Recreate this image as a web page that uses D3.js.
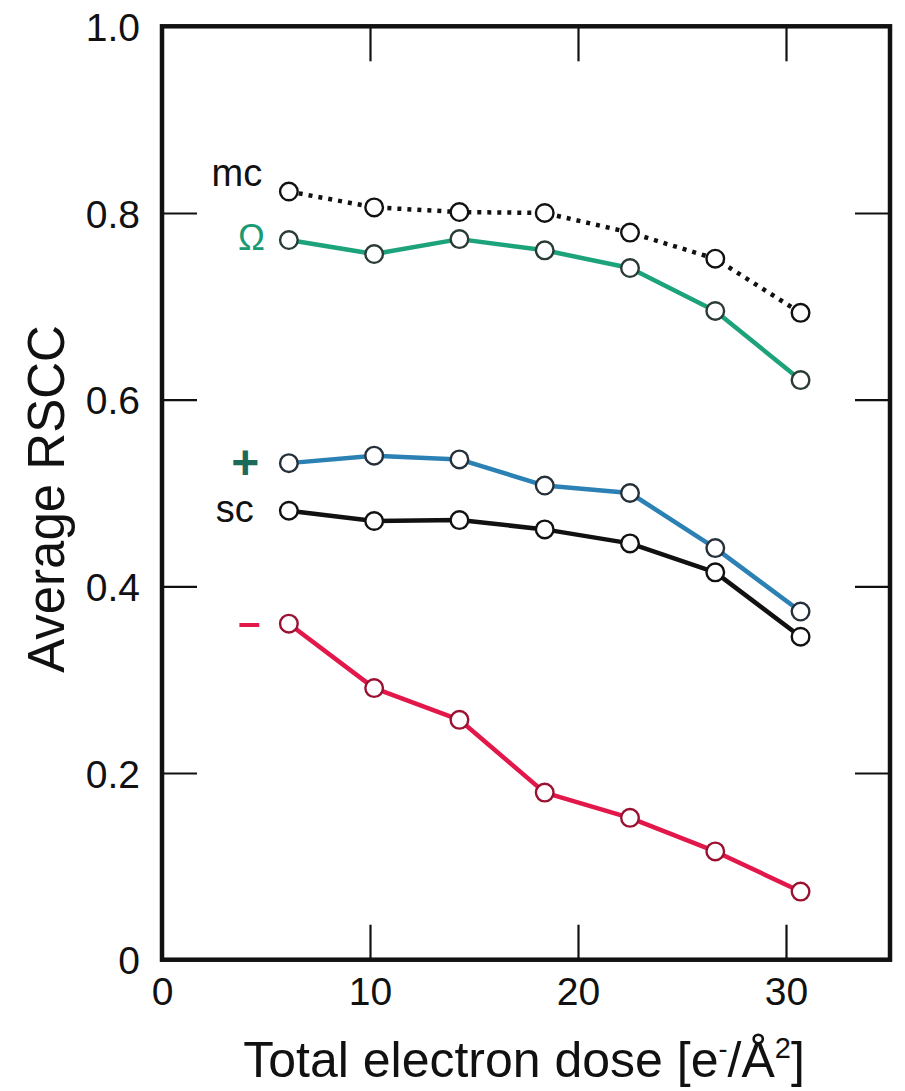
<!DOCTYPE html>
<html><head><meta charset="utf-8">
<script src="https://cdn.jsdelivr.net/npm/d3@7"></script>
<style>body{margin:0;background:#fff}svg{display:block}text{font-family:"Liberation Sans",Arial,Helvetica,sans-serif}</style>
</head><body><svg id="c" width="905" height="1091"></svg>
<script>
const dose = [6.1, 10.2, 14.3, 18.4, 22.5, 26.6, 30.7];
const mcValues    = [0.823, 0.806, 0.801, 0.800, 0.779, 0.751, 0.693];
const omegaValues = [0.771, 0.756, 0.772, 0.760, 0.741, 0.695, 0.621];
const plusValues  = [0.532, 0.540, 0.536, 0.508, 0.500, 0.441, 0.373];
const scValues    = [0.481, 0.470, 0.471, 0.461, 0.446, 0.415, 0.346];
const minusValues = [0.360, 0.291, 0.257, 0.179, 0.152, 0.116, 0.073];
const xTicks = [0, 10, 20, 30];
const yTicks = [0, 0.2, 0.4, 0.6, 0.8, 1.0];
const yTickLabels = ["0", "0.2", "0.4", "0.6", "0.8", "1.0"];

const series = [
  {name:"mc", values: mcValues, color:"#111", dash:"4,6", marker:"#111", label:"mc", labelColor:"#111", ly:0.843, lx:3.6, size:38},
  {name:"omega", values: omegaValues, color:"#1ca37b", dash:null, marker:"#2a3a35", label:"Ω", labelColor:"#1a9a74", ly:0.774, lx:4.3, size:36},
  {name:"plus", values: plusValues, color:"#2b80b4", dash:null, marker:"#26303a", label:"+", labelColor:"#1c6b5a", ly:0.533, lx:4.0, size:48, bold:true},
  {name:"sc", values: scValues, color:"#111", dash:null, marker:"#111", label:"sc", labelColor:"#111", ly:0.483, lx:3.5, size:38},
  {name:"minus", values: minusValues, color:"#e3184a", dash:null, marker:"#9a1232", label:"–", labelColor:"#e3184a", ly:0.362, lx:4.2, size:40, bold:true}
];

const L=162, R=890, T=26.3, B=959.7;
const x = d3.scaleLinear().domain([0,35]).range([L,R]);
const y = d3.scaleLinear().domain([0,1]).range([B,T]);
const svg = d3.select("#c");
const tl = 35;

const fmtY = d => yTickLabels[yTicks.indexOf(d)];
const gB = svg.append("g").attr("transform",`translate(0,${B})`)
  .call(d3.axisBottom(x).tickValues(xTicks).tickSizeInner(-tl).tickSizeOuter(0).tickPadding(18).tickFormat(d3.format("d")));
const gT = svg.append("g").attr("transform",`translate(0,${T})`)
  .call(d3.axisTop(x).tickValues(xTicks.slice(1)).tickSizeInner(-tl).tickSizeOuter(0).tickFormat(""));
const gL = svg.append("g").attr("transform",`translate(${L},0)`)
  .call(d3.axisLeft(y).tickValues(yTicks).tickSizeInner(-tl).tickSizeOuter(0).tickPadding(22).tickFormat(fmtY));
const gR = svg.append("g").attr("transform",`translate(${R},0)`)
  .call(d3.axisRight(y).tickValues(yTicks.slice(1,5)).tickSizeInner(-tl).tickSizeOuter(0).tickFormat(""));
[gB,gT,gL,gR].forEach(g=>{
  g.select(".domain").remove();
  g.selectAll(".tick line").attr("stroke","#111").attr("stroke-width",2.2);
  g.selectAll(".tick text").attr("fill","#111").style("font-size","39px").style("font-family",'"Liberation Sans",Arial,sans-serif');
});
gL.selectAll(".tick text").attr("dy","0.36em");

svg.append("rect").attr("x",L).attr("y",T).attr("width",R-L).attr("height",B-T)
  .attr("fill","none").attr("stroke","#111").attr("stroke-width",4.5);

const line = d3.line().x((d,i)=>x(dose[i])).y(d=>y(d));
series.forEach(s=>{
  svg.append("path").datum(s.values).attr("d",line).attr("fill","none")
    .attr("stroke",s.color).attr("stroke-width",4.5)
    .attr("stroke-dasharray",s.dash).attr("stroke-linejoin","round");
});
series.forEach(s=>{
  svg.append("g").selectAll("circle").data(s.values).join("circle")
    .attr("cx",(d,i)=>x(dose[i])).attr("cy",d=>y(d)).attr("r",8.8)
    .attr("fill","#fff").attr("stroke",s.marker).attr("stroke-width",2.4);
  svg.append("text").attr("x",x(s.lx)).attr("y",y(s.ly)).attr("dy","0.35em")
    .attr("text-anchor","middle").attr("fill",s.labelColor)
    .style("font-size", s.size + "px").style("font-weight", s.bold ? "bold" : "normal")
    .text(s.label);
});

svg.append("text").attr("x",(L+R)/2 - 2).attr("y",1077).attr("text-anchor","middle")
  .attr("fill","#111").style("font-size","50px")
  .html('Total electron dose [e<tspan dy="-19" style="font-size:27px">-</tspan><tspan dy="19">/Å</tspan><tspan dy="-19" style="font-size:29px">2</tspan><tspan dy="19">]</tspan>');
svg.append("text").attr("transform",`translate(64,${(T+B)/2 + 6}) rotate(-90)`)
  .attr("text-anchor","middle").attr("fill","#111").style("font-size","51px").text("Average RSCC");
</script></body></html>
